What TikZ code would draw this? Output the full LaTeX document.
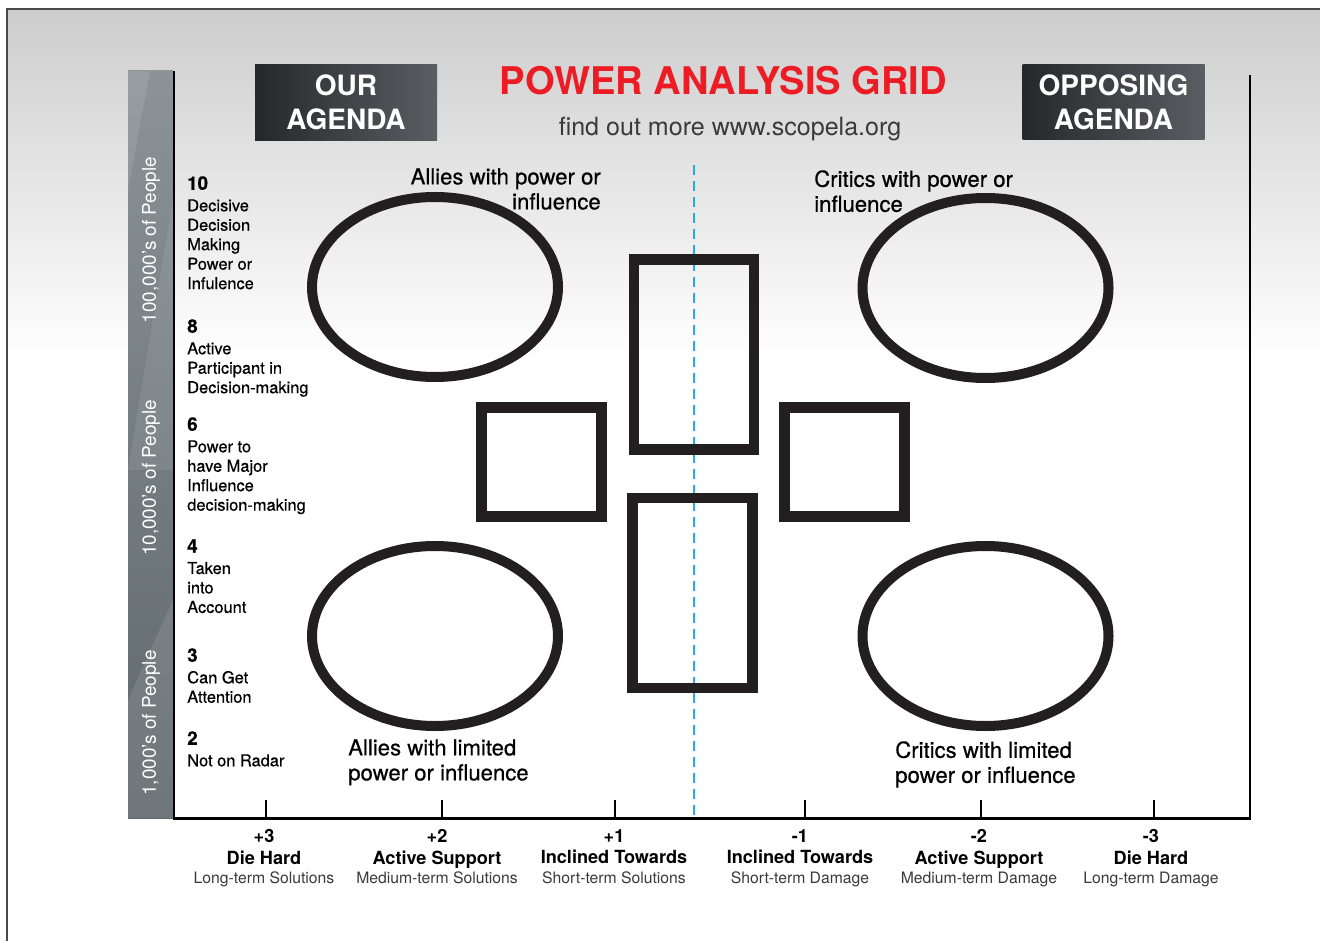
\documentclass[tikz,border=0pt]{standalone}
\usepackage{fontspec}
\setmainfont{TeX Gyre Heros}
\newfontfamily\mediumfont[FakeBold=0.5]{TeX Gyre Heros}
\usetikzlibrary{shapes.geometric}

\definecolor{gridred}{HTML}{ED1C24}
\definecolor{dashblue}{HTML}{29ABE2}
\definecolor{inkblack}{HTML}{231F20}
\definecolor{boxdark}{HTML}{25282B}
\definecolor{boxlight}{HTML}{5A5E62}
\definecolor{bartop}{HTML}{8B9397}
\definecolor{barbottom}{HTML}{5E676B}
\definecolor{bgtop}{HTML}{CDCDCD}
\definecolor{framegray}{HTML}{4A4A4A}
\definecolor{softtext}{HTML}{3A3A3A}

\tikzset{
  camp/.style={ellipse, draw=inkblack, line width=7.5pt, minimum width=184.5pt, minimum height=135pt, inner sep=0pt},
  lean/.style={rectangle, draw=inkblack, line width=8pt, inner sep=0pt, minimum width=90pt},
  agenda/.style={left color=boxdark, right color=boxlight, text=white, align=center,
    minimum width=136.5pt, minimum height=56.5pt, inner sep=0pt,
    font=\fontsize{21}{25.5}\selectfont\bfseries},
  people/.style={rotate=90, text=white, inner sep=0pt, font=\fontsize{14.2}{16}\selectfont},
  level/.style={anchor=north west, align=left, inner sep=0pt, text=black,
    font=\mediumfont\fontsize{12.3}{14.6}\selectfont},
  campname/.style={inner sep=0pt, font=\mediumfont\fontsize{16.6}{18.75}\selectfont},
  stance/.style={anchor=north, align=center, inner sep=0pt, font=\fontsize{13.6}{16.2}\selectfont\bfseries},
}

\newcommand{\levelnum}[1]{{\fontsize{14}{14.6}\selectfont\bfseries #1}}

\begin{document}
\begin{tikzpicture}[x=0.75pt, y=-0.75pt]
  \useasboundingbox (0,0) rectangle (1320,941);
  \fill[white] (0,0) rectangle (1320,941);

  % Background and frame
  \fill[top color=bgtop, bottom color=white] (7,9) rectangle (1320,360);
  \draw[framegray, line width=1.5pt] (7,950) -- (7,9) -- (1330,9);

  % People band
  \fill[top color=bartop, bottom color=barbottom] (128,71) rectangle (173,818);
  \fill[white, opacity=0.10] (128,71) -- (150,71) -- (128,190) -- cycle;
  \fill[white, opacity=0.08] (173,200) -- (173,470) -- (128,470) -- cycle;
  \fill[white, opacity=0.10] (128,818) -- (128,700) -- (173,600) -- (173,818) -- cycle;
  \node[people] (band100k) at (151,240) {100,000's of People};
  \node[people] (band10k) at (151,478) {10,000's of People};
  \node[people] (band1k) at (151,723) {1,000's of People};

  % Heading
  \node[agenda] (ours) at (346,102.5) {OUR\\AGENDA};
  \node[agenda] (theirs) at (1113.5,102) {OPPOSING\\AGENDA};
  \node[text=gridred, inner sep=0pt, font=\fontsize{28.6}{30}\selectfont\bfseries] (title) at (723.5,80.5) {POWER ANALYSIS GRID};
  \node[anchor=base, inner sep=0pt, text=softtext, font=\fontsize{18.8}{20}\selectfont] (site) at (730,136) {find out more www.scopela.org};

  % Axes
  \coordinate (ytop) at (174,71);
  \coordinate (origin) at (174,818.5);
  \coordinate (xend) at (1250,818.5);
  \coordinate (rtop) at (1250,75);
  \draw[black, line width=1.6pt] (ytop) -- (origin) -- (xend) -- (rtop);

  % Divide
  \coordinate (divtop) at (694,165);
  \coordinate (divfoot) at (694,817);
  \draw[dashblue, line width=1.5pt, dash pattern=on 7.5pt off 4.5pt] (divtop) -- (divfoot);

  % Levels
  \node[level] (lv10) at (187,176) {\levelnum{10}\\[1.5pt]Decisive\\Decision\\Making\\Power or\\Infulence};
  \node[level] (lv8) at (187,319) {\levelnum{8}\\[1.5pt]Active\\Participant in\\Decision-making};
  \node[level] (lv6) at (187,417) {\levelnum{6}\\[1.5pt]Power to\\have Major\\Influence\\decision-making};
  \node[level] (lv4) at (187,539) {\levelnum{4}\\[1.5pt]Taken\\into\\Account};
  \node[level] (lv3) at (187,648) {\levelnum{3}\\[1.5pt]Can Get\\Attention};
  \node[level] (lv2) at (187,731) {\levelnum{2}\\[1.5pt]Not on Radar};

  % Camps
  \node[camp] (alliesup) at (435,287) {};
  \node[camp] (criticsup) at (985.5,288) {};
  \node[camp] (alliesdown) at (435,636) {};
  \node[camp] (criticsdown) at (985.5,636) {};
  \node[lean, minimum height=142.5pt] (leanup) at (694,354.5) {};
  \node[lean, minimum height=142.5pt] (leandown) at (692.5,593) {};
  \node[lean, minimum height=81.75pt] (leanours) at (541.5,462) {};
  \node[lean, minimum height=81.75pt] (leantheirs) at (844.5,462) {};

  \node[campname, anchor=north east, align=right] (alliesupname) at (601,168) {Allies with power or\\influence};
  \node[campname, anchor=north west, align=left] (criticsupname) at (814,170) {Critics with power or\\influence};
  \node[campname, anchor=north west, align=left] (alliesdownname) at (348,739) {Allies with limited\\power or influence};
  \node[campname, anchor=north west, align=left] (criticsdownname) at (895,741) {Critics with limited\\power or influence};

  % Stances
  \foreach \tx/\lx/\num/\name/\aim [count=\i] in {266/264/+3/Die Hard/Long-term Solutions,
      442/437/+2/Active Support/Medium-term Solutions, 615/614/+1/Inclined Towards/Short-term Solutions,
      805/800/-1/Inclined Towards/Short-term Damage, 981/979/-2/Active Support/Medium-term Damage,
      1154/1151/-3/Die Hard/Long-term Damage}{
    \coordinate (tick\i) at (\tx,800);
    \coordinate (foot\i) at (\tx,817);
    \draw[black, line width=1pt] (tick\i) -- (foot\i);
    \node[stance] (stance\i) at (\lx,829) {\num\\\name\\[-1.5pt]{\mdseries\color{softtext}\fontsize{11.8}{15}\selectfont\aim}};
  }

\end{tikzpicture}
\end{document}
